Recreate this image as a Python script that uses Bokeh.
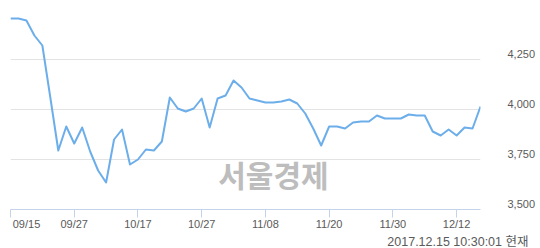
from bokeh.plotting import figure
from bokeh.models import Range1d, FixedTicker, Label, LinearAxis, Title
from bokeh.embed import file_html
from bokeh.resources import INLINE

# daily closing prices (trading days 2017-09-15 .. 2017-12-15)
prices = [4455, 4455, 4445, 4370, 4320, 4060, 3795, 3915, 3830, 3910,
          3790, 3695, 3635, 3850, 3900, 3725, 3750, 3800, 3795, 3840,
          4060, 4005, 3990, 4005, 4055, 3910, 4055, 4070, 4145, 4110,
          4055, 4045, 4035, 4035, 4040, 4050, 4030, 3980, 3905, 3820,
          3915, 3915, 3905, 3935, 3940, 3940, 3970, 3955, 3955, 3955,
          3975, 3970, 3970, 3890, 3870, 3900, 3870, 3910, 3905, 4015]
days = list(range(len(prices)))
tick_days = [0, 8, 16, 24, 32, 40, 48, 56]
tick_labels = ["09/15", "09/27", "10/17", "10/27", "11/08", "11/20", "11/30", "12/12"]
y_ticks = [3500, 3750, 4000, 4250, 4500]
y_labels = ["3,500", "3,750", "4,000", "4,250", ""]
stamp = "2017.12.15 10:30:01 현재"
watermark = "서울경제"

FONT = "Liberation Sans"
TXT = "#5a5a5a"
Y0, Y1 = 3500, 4500
NBSP = "\u00a0"

p = figure(width=540, height=248, output_backend="svg", toolbar_location=None,
           x_range=Range1d(0, len(prices) - 1), y_range=Range1d(Y0, Y1),
           min_border_left=10, min_border_right=60, min_border_top=9,
           min_border_bottom=38, x_axis_location=None, y_axis_location=None)
p.outline_line_color = None
p.background_fill_color = "white"
p.border_fill_color = "white"
# label range: same scale, shifted so the value labels sit a little above their gridlines
p.extra_y_ranges = {"labels": Range1d(Y0 - 30, Y1 - 30)}

# bottom axis (first label is left-aligned at its tick, like the original)
xa = LinearAxis(ticker=FixedTicker(ticks=tick_days))
overrides = {d: lab for d, lab in zip(tick_days, tick_labels)}
overrides[tick_days[0]] = NBSP * 4 + tick_labels[0]
xa.major_label_overrides = overrides
xa.axis_line_color = "#c5d3ea"
xa.major_tick_line_color = "#c5d3ea"
xa.major_tick_out = 8
xa.major_tick_in = 0
xa.minor_tick_line_color = None
xa.major_label_standoff = 0
xa.major_label_text_font = FONT
xa.major_label_text_font_size = "11px"
xa.major_label_text_color = TXT
p.add_layout(xa, "below")

# timestamp under the axis
p.add_layout(Title(text=stamp, align="right", offset=-48, standoff=0,
                   text_font="Liberation Sans, Noto Sans CJK KR",
                   text_font_size="12.5px", text_font_style="normal",
                   text_color=TXT), "below")

# right axis
ya = LinearAxis(ticker=FixedTicker(ticks=y_ticks), y_range_name="labels")
ya.major_label_overrides = {t: l for t, l in zip(y_ticks, y_labels)}
ya.axis_line_color = None
ya.major_tick_line_color = None
ya.minor_tick_line_color = None
ya.major_label_standoff = 21
ya.major_label_text_font = FONT
ya.major_label_text_font_size = "11px"
ya.major_label_text_color = TXT
p.add_layout(ya, "right")

p.xgrid.grid_line_color = None
p.ygrid.ticker = FixedTicker(ticks=y_ticks)
p.ygrid.grid_line_color = "#e3e3e3"
p.ygrid.grid_line_width = 1

# watermark
p.add_layout(Label(x=33, y=3680, text=watermark, text_align="center",
                   text_baseline="middle", text_font="Noto Sans CJK KR",
                   text_font_style="bold", text_font_size="30px",
                   text_color="#bdbdbd"))

p.line(days, prices, line_color="#6caeea", line_width=2, line_join="round")

open("out.html", "w").write(file_html(p, INLINE))
